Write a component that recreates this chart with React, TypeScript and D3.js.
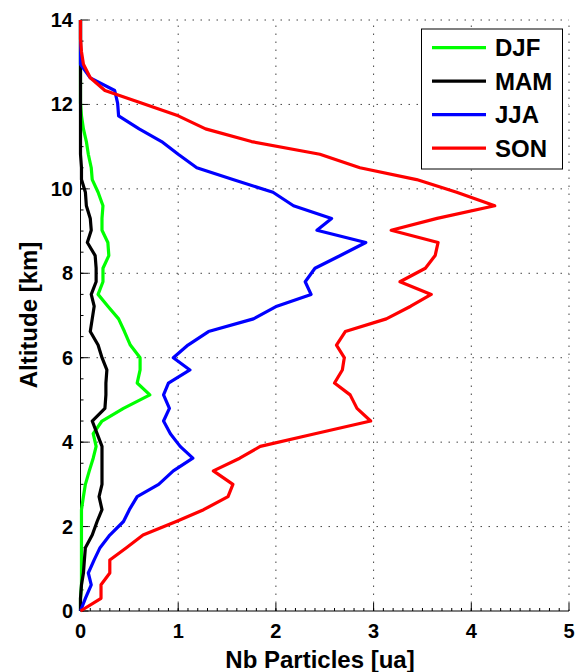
import * as d3 from "d3";
import React from "react";

// altitude levels (km), shared by all seasons
const altitudes = [
  0, 0.3, 0.62, 0.9, 1.21, 1.5, 1.8, 2.12, 2.4, 2.71, 3.0, 3.32, 3.62, 3.9, 4.2, 4.5,
  4.8, 5.12, 5.4, 5.71, 6.0, 6.3, 6.62, 6.92, 7.22, 7.5, 7.8, 8.12, 8.42, 8.73, 9.02,
  9.3, 9.6, 9.92, 10.22, 10.5, 10.82, 11.12, 11.42, 11.73, 12.03, 12.33, 12.63, 12.95,
  13.25, 13.55, 14,
];

const djf = [
  0, 0, 0.01, 0.01, 0.01, 0.01, 0.01, 0.01, 0.01, 0.03, 0.05, 0.09, 0.13, 0.16, 0.13, 0.22,
  0.44, 0.71, 0.58, 0.61, 0.61, 0.51, 0.45, 0.39, 0.28, 0.18, 0.23, 0.23, 0.29, 0.28, 0.22,
  0.22, 0.23, 0.18, 0.12, 0.11, 0.08, 0.06, 0.03, 0.01, 0, 0, 0, 0, 0, 0, 0,
];

const mam = [
  0, 0, 0.01, 0.03, 0.04, 0.05, 0.12, 0.17, 0.22, 0.19, 0.22, 0.22, 0.22, 0.22, 0.17, 0.12,
  0.25, 0.26, 0.26, 0.27, 0.22, 0.18, 0.1, 0.12, 0.14, 0.11, 0.16, 0.16, 0.15, 0.07, 0.11,
  0.1, 0.06, 0.05, 0.01, 0.01, 0, 0, 0, 0, 0, 0, 0, 0, 0, 0, 0,
];

const jja = [
  0, 0.05, 0.11, 0.08, 0.14, 0.2, 0.3, 0.44, 0.5, 0.58, 0.8, 0.95, 1.15, 1.02, 0.92, 0.85,
  0.91, 0.85, 0.9, 1.12, 0.95, 1.1, 1.31, 1.77, 2.01, 2.36, 2.3, 2.4, 2.66, 2.92, 2.42,
  2.57, 2.18, 1.97, 1.56, 1.19, 1.0, 0.83, 0.6, 0.39, 0.38, 0.35, 0.1, 0, 0, 0, 0,
];

const son = [
  0, 0.21, 0.21, 0.3, 0.3, 0.47, 0.64, 0.98, 1.26, 1.51, 1.56, 1.36, 1.63, 1.84, 2.4, 2.97,
  2.83, 2.76, 2.6, 2.68, 2.7, 2.62, 2.71, 3.13, 3.38, 3.59, 3.27, 3.53, 3.63, 3.66, 3.18,
  3.65, 4.24, 3.85, 3.44, 2.86, 2.45, 1.75, 1.28, 1.0, 0.63, 0.25, 0.1, 0.03, 0.01, 0, 0,
];

const seriesNames = ["DJF", "MAM", "JJA", "SON"];
const seriesValues = [djf, mam, jja, son];
const seriesColors = ["#00ff00", "#000000", "#0000ff", "#ff0000"];

const xTicks = [0, 1, 2, 3, 4, 5];
const yTicks = [0, 2, 4, 6, 8, 10, 12, 14];

const width = 576;
const height = 672;
const font = "'Liberation Sans', Arial, sans-serif";

export default function App() {
  const x = d3.scaleLinear().domain([0, 5]).range([80.5, 569]);
  const y = d3.scaleLinear().domain([0, 14]).range([611, 20]);

  const line = d3
    .line<[number, number]>()
    .x((d) => x(d[0]))
    .y((d) => y(d[1]));

  const xMinor = d3.range(0, 50).map((i) => i / 10);
  const yMinor = d3.range(0, 28).map((i) => i / 2);

  return (
    <svg
      width={width}
      height={height}
      style={{ position: "absolute", left: 0, top: 0, background: "#fff" }}
      fontFamily={font}
    >
      <rect x={0} y={0} width={width} height={height} fill="#fff" />
      {/* grid */}
      <g stroke="#444" strokeWidth={1} strokeDasharray="1.5,6.5">
        {xTicks.slice(1).map((t) => (
          <line key={"gx" + t} x1={x(t)} x2={x(t)} y1={y(0)} y2={y(14)} />
        ))}
        {yTicks.slice(1).map((t) => (
          <line key={"gy" + t} x1={x(0)} x2={x(5)} y1={y(t)} y2={y(t)} />
        ))}
      </g>
      {/* axes */}
      <g stroke="#000" strokeWidth={1}>
        <line x1={x(0)} x2={x(5)} y1={y(0)} y2={y(0)} />
        <line x1={x(0)} x2={x(0)} y1={y(0)} y2={y(14)} />
        {xTicks.map((t) => (
          <line key={"tx" + t} x1={x(t)} x2={x(t)} y1={y(0)} y2={y(0) - 8} />
        ))}
        {yTicks.map((t) => (
          <line key={"ty" + t} x1={x(0)} x2={x(0) + 8} y1={y(t)} y2={y(t)} />
        ))}
        {xMinor.map((t) => (
          <line key={"mx" + t} x1={x(t)} x2={x(t)} y1={y(0)} y2={y(0) - 3} />
        ))}
        {yMinor.map((t) => (
          <line key={"my" + t} x1={x(0)} x2={x(0) + 3} y1={y(t)} y2={y(t)} />
        ))}
      </g>
      {/* series */}
      <g fill="none" strokeWidth={3.2} strokeLinejoin="round">
        {seriesValues.map((vals, i) => (
          <path
            key={seriesNames[i]}
            d={line(vals.map((v, j) => [v, altitudes[j]] as [number, number])) || ""}
            stroke={seriesColors[i]}
          />
        ))}
      </g>
      {/* tick labels */}
      <g fontSize={20} fontWeight="bold" fill="#000">
        {xTicks.map((t) => (
          <text key={"lx" + t} x={x(t)} y={638} textAnchor="middle">
            {t}
          </text>
        ))}
        {yTicks.map((t) => (
          <text key={"ly" + t} x={73} y={y(t) + 7} textAnchor="end">
            {t}
          </text>
        ))}
      </g>
      {/* axis titles */}
      <text x={320} y={668} textAnchor="middle" fontSize={24} fontWeight="bold">
        Nb Particles [ua]
      </text>
      <text
        transform={`translate(37, 315) rotate(-90)`}
        textAnchor="middle"
        fontSize={24}
        fontWeight="bold"
      >
        Altitude [km]
      </text>
      {/* legend */}
      <g>
        <rect x={421.5} y={29} width={141} height={140} fill="#fff" stroke="#000" strokeWidth={1} />
        {seriesNames.map((name, i) => {
          const ly = 47.7 + i * 33.5;
          return (
            <g key={"leg" + name}>
              <line x1={432} x2={486} y1={ly} y2={ly} stroke={seriesColors[i]} strokeWidth={3.2} />
              <text x={495} y={ly + 8.5} fontSize={24} fontWeight="bold">
                {name}
              </text>
            </g>
          );
        })}
      </g>
    </svg>
  );
}
